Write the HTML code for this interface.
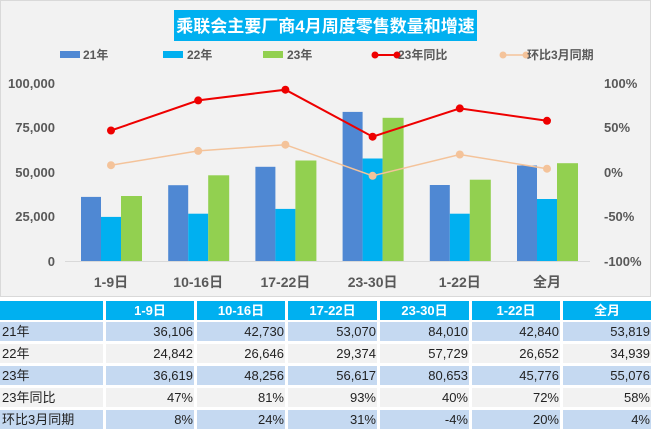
<!DOCTYPE html>
<html><head><meta charset="utf-8"><style>
body{margin:0;width:651px;height:432px;background:#fff;overflow:hidden;font-family:"Liberation Sans","Noto Sans CJK SC",sans-serif}
</style></head><body>
<svg width="651" height="432" xmlns="http://www.w3.org/2000/svg" font-family="Liberation Sans, Noto Sans CJK SC, sans-serif">
<rect x="0.5" y="0.5" width="650" height="296" fill="#f2f2f2" stroke="#d9d9d9"/>
<rect x="174" y="10" width="303" height="31" fill="#00b0f0"/>
<text x="325.5" y="32" fill="#fff" font-size="17" font-weight="bold" text-anchor="middle">乘联会主要厂商4月周度零售数量和增速</text>
<g font-size="12" font-weight="bold" fill="#595959">
<rect x="60" y="51" width="20" height="7" fill="#4f88d3"/><text x="83" y="59">21年</text>
<rect x="163" y="51" width="20" height="7" fill="#00b0f0"/><text x="187" y="59">22年</text>
<rect x="263" y="51" width="20" height="7" fill="#92d050"/><text x="287" y="59">23年</text>
<line x1="373" y1="55" x2="398" y2="55" stroke="#e00" stroke-width="2"/><circle cx="375" cy="55" r="3.5" fill="#e00"/><circle cx="397" cy="55" r="3.5" fill="#e00"/><text x="398" y="59">23年同比</text>
<line x1="502" y1="55" x2="527" y2="55" stroke="#f4c39a" stroke-width="1.5"/><circle cx="503" cy="55" r="3.5" fill="#f4c39a"/><circle cx="526" cy="55" r="3.5" fill="#f4c39a"/><text x="527" y="59">环比3月同期</text>
</g>
<g font-size="13" font-weight="bold" fill="#595959" text-anchor="end">
<text x="55" y="88">100,000</text><text x="55" y="132">75,000</text><text x="55" y="177">50,000</text><text x="55" y="221">25,000</text><text x="55" y="266">0</text>
</g>
<g font-size="13" font-weight="bold" fill="#595959">
<text x="604" y="88">100%</text><text x="604" y="132">50%</text><text x="604" y="177">0%</text><text x="604" y="221">-50%</text><text x="604" y="266">-100%</text>
</g>
<line x1="65" y1="261.5" x2="590" y2="261.5" stroke="#d9d9d9"/>
<g>
<rect x="81" y="196.9" width="20" height="64.1" fill="#4f88d3"/><rect x="101" y="216.9" width="20" height="44.1" fill="#00b0f0"/><rect x="121" y="196" width="21" height="65" fill="#92d050"/>
<rect x="168.2" y="185.2" width="20" height="75.8" fill="#4f88d3"/><rect x="188.2" y="213.7" width="20" height="47.3" fill="#00b0f0"/><rect x="208.2" y="175.3" width="21" height="85.7" fill="#92d050"/>
<rect x="255.4" y="166.8" width="20" height="94.2" fill="#4f88d3"/><rect x="275.4" y="208.9" width="20" height="52.1" fill="#00b0f0"/><rect x="295.4" y="160.5" width="21" height="100.5" fill="#92d050"/>
<rect x="342.6" y="111.9" width="20" height="149.1" fill="#4f88d3"/><rect x="362.6" y="158.5" width="20" height="102.5" fill="#00b0f0"/><rect x="382.6" y="117.8" width="21" height="143.2" fill="#92d050"/>
<rect x="429.8" y="185" width="20" height="76" fill="#4f88d3"/><rect x="449.8" y="213.7" width="20" height="47.3" fill="#00b0f0"/><rect x="469.8" y="179.7" width="21" height="81.3" fill="#92d050"/>
<rect x="517" y="165.5" width="20" height="95.5" fill="#4f88d3"/><rect x="537" y="199" width="20" height="62" fill="#00b0f0"/><rect x="557" y="163.2" width="21" height="97.8" fill="#92d050"/>
</g>
<polyline points="111,165.2 198.2,150.9 285.4,144.7 372.6,175.8 459.8,154.5 547,168.7" fill="none" stroke="#f4c39a" stroke-width="1.5"/>
<g fill="#f4c39a"><circle cx="111" cy="165.2" r="4"/><circle cx="198.2" cy="150.9" r="4"/><circle cx="285.4" cy="144.7" r="4"/><circle cx="372.6" cy="175.8" r="4"/><circle cx="459.8" cy="154.5" r="4"/><circle cx="547" cy="168.7" r="4"/></g>
<polyline points="111,130.5 198.2,100.4 285.4,89.7 372.6,136.7 459.8,108.4 547,120.8" fill="none" stroke="#e00" stroke-width="2"/>
<g fill="#e00"><circle cx="111" cy="130.5" r="4"/><circle cx="198.2" cy="100.4" r="4"/><circle cx="285.4" cy="89.7" r="4"/><circle cx="372.6" cy="136.7" r="4"/><circle cx="459.8" cy="108.4" r="4"/><circle cx="547" cy="120.8" r="4"/></g>
<g font-size="14" font-weight="bold" fill="#595959" text-anchor="middle">
<text x="111" y="287">1-9日</text><text x="198.2" y="287">10-16日</text><text x="285.4" y="287">17-22日</text><text x="372.6" y="287">23-30日</text><text x="459.8" y="287">1-22日</text><text x="547" y="287">全月</text>
</g>
<g>
<rect x="0" y="301" width="103" height="19" fill="#00b0f0"/><rect x="106" y="301" width="88" height="19" fill="#00b0f0"/><rect x="197" y="301" width="88" height="19" fill="#00b0f0"/><rect x="288" y="301" width="89" height="19" fill="#00b0f0"/><rect x="380" y="301" width="89" height="19" fill="#00b0f0"/><rect x="472" y="301" width="88" height="19" fill="#00b0f0"/><rect x="563" y="301" width="88" height="19" fill="#00b0f0"/>
</g>
<g font-size="13" font-weight="bold" fill="#fff" text-anchor="middle">
<text x="150" y="315">1-9日</text><text x="241" y="315">10-16日</text><text x="332.5" y="315">17-22日</text><text x="424.5" y="315">23-30日</text><text x="516" y="315">1-22日</text><text x="607" y="315">全月</text>
</g>
<g id="rows"></g>
<g fill="#c5d9f1">
<rect x="0" y="322" width="103" height="19"/><rect x="106" y="322" width="88" height="19"/><rect x="197" y="322" width="88" height="19"/><rect x="288" y="322" width="89" height="19"/><rect x="380" y="322" width="89" height="19"/><rect x="472" y="322" width="88" height="19"/><rect x="563" y="322" width="88" height="19"/>
<rect x="0" y="366" width="103" height="19"/><rect x="106" y="366" width="88" height="19"/><rect x="197" y="366" width="88" height="19"/><rect x="288" y="366" width="89" height="19"/><rect x="380" y="366" width="89" height="19"/><rect x="472" y="366" width="88" height="19"/><rect x="563" y="366" width="88" height="19"/>
<rect x="0" y="410" width="103" height="19"/><rect x="106" y="410" width="88" height="19"/><rect x="197" y="410" width="88" height="19"/><rect x="288" y="410" width="89" height="19"/><rect x="380" y="410" width="89" height="19"/><rect x="472" y="410" width="88" height="19"/><rect x="563" y="410" width="88" height="19"/>
</g>
<g fill="#f2f2f2">
<rect x="0" y="344" width="103" height="19"/><rect x="106" y="344" width="88" height="19"/><rect x="197" y="344" width="88" height="19"/><rect x="288" y="344" width="89" height="19"/><rect x="380" y="344" width="89" height="19"/><rect x="472" y="344" width="88" height="19"/><rect x="563" y="344" width="88" height="19"/>
<rect x="0" y="388" width="103" height="19"/><rect x="106" y="388" width="88" height="19"/><rect x="197" y="388" width="88" height="19"/><rect x="288" y="388" width="89" height="19"/><rect x="380" y="388" width="89" height="19"/><rect x="472" y="388" width="88" height="19"/><rect x="563" y="388" width="88" height="19"/>
</g>
<g font-size="13" fill="#222">
<text x="2" y="336">21年</text><text x="2" y="358">22年</text><text x="2" y="380">23年</text><text x="2" y="402">23年同比</text><text x="2" y="424">环比3月同期</text>
</g>
<g font-size="13" fill="#222" text-anchor="end">
<text x="193" y="336">36,106</text><text x="284" y="336">42,730</text><text x="376" y="336">53,070</text><text x="468" y="336">84,010</text><text x="559" y="336">42,840</text><text x="650" y="336">53,819</text>
<text x="193" y="358">24,842</text><text x="284" y="358">26,646</text><text x="376" y="358">29,374</text><text x="468" y="358">57,729</text><text x="559" y="358">26,652</text><text x="650" y="358">34,939</text>
<text x="193" y="380">36,619</text><text x="284" y="380">48,256</text><text x="376" y="380">56,617</text><text x="468" y="380">80,653</text><text x="559" y="380">45,776</text><text x="650" y="380">55,076</text>
<text x="193" y="402">47%</text><text x="284" y="402">81%</text><text x="376" y="402">93%</text><text x="468" y="402">40%</text><text x="559" y="402">72%</text><text x="650" y="402">58%</text>
<text x="193" y="424">8%</text><text x="284" y="424">24%</text><text x="376" y="424">31%</text><text x="468" y="424">-4%</text><text x="559" y="424">20%</text><text x="650" y="424">4%</text>
</g>
</svg>
</body></html>
